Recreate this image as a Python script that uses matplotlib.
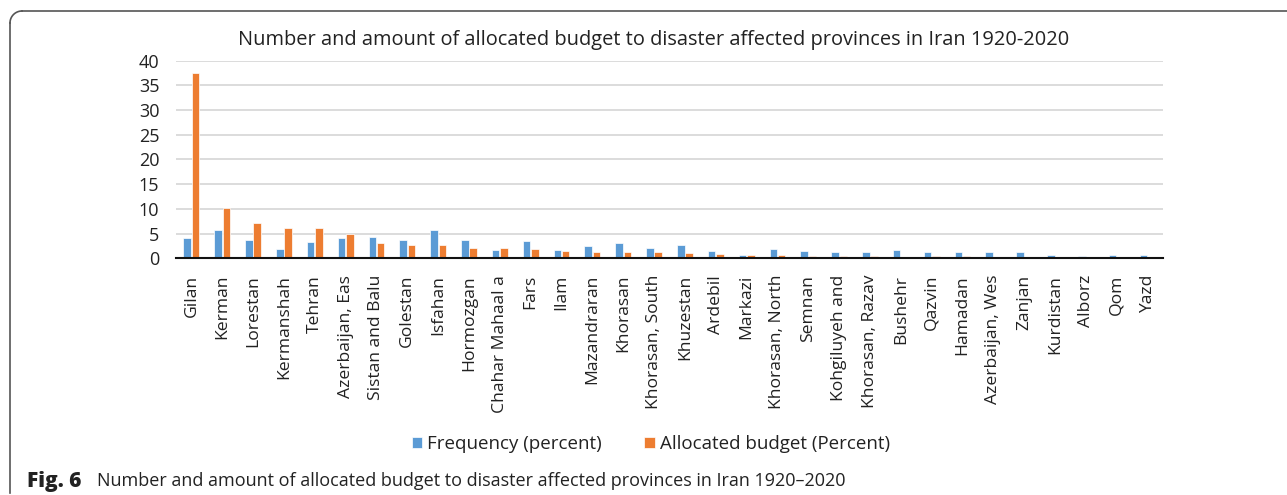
import matplotlib
matplotlib.use("Agg")
import matplotlib.pyplot as plt
import numpy as np
from matplotlib.lines import Line2D

provinces = ["Gilan", "Kerman", "Lorestan", "Kermanshah", "Tehran", "Azerbaijan, Eas",
             "Sistan and Balu", "Golestan", "Isfahan", "Hormozgan", "Chahar Mahaal a",
             "Fars", "Ilam", "Mazandraran", "Khorasan", "Khorasan, South", "Khuzestan",
             "Ardebil", "Markazi", "Khorasan, North", "Semnan", "Kohgiluyeh and",
             "Khorasan, Razav", "Bushehr", "Qazvin", "Hamadan", "Azerbaijan, Wes",
             "Zanjan", "Kurdistan", "Alborz", "Qom", "Yazd"]
frequency = [4.2, 5.8, 3.8, 1.9, 3.2, 4.2, 4.3, 3.8, 5.8, 3.8, 1.6,
             3.4, 1.7, 2.5, 3.0, 2.1, 2.7, 1.5, 0.7, 1.9, 1.5, 1.2,
             1.3, 1.7, 1.3, 1.2, 1.3, 1.3, 0.7, 0.4, 0.7, 0.7]
budget = [37.4, 10.1, 7.2, 6.2, 6.1, 4.9, 3.0, 2.6, 2.6, 2.1, 2.1,
          1.9, 1.5, 1.2, 1.2, 1.2, 1.0, 0.9, 0.6, 0.6, 0.45, 0.4,
          0.4, 0.3, 0.4, 0.4, 0.27, 0.27, 0.2, 0.13, 0.0, 0.0]
yticks = [0, 5, 10, 15, 20, 25, 30, 35, 40]
title = "Number and amount of allocated budget to disaster affected provinces in Iran 1920-2020"
series_names = ["Frequency (percent)", "Allocated budget (Percent)"]
caption_bold = "Fig. 6"
caption_text = "Number and amount of allocated budget to disaster affected provinces in Iran 1920\u20132020"

BLUE = "#5B9BD5"
ORANGE = "#ED7D31"
FONT = ["Open Sans", "DejaVu Sans"]

plt.rcParams['font.family'] = FONT

W, H = 1287, 495
fig = plt.figure(figsize=(W / 100, H / 100), dpi=100)

ax = fig.add_axes([176 / W, 1 - 258.3 / H, (1163 - 176) / W, (258.3 - 60.5) / H])
x = np.arange(len(provinces))
bw = 0.245
ax.bar(x - 0.135, frequency, width=bw, color=BLUE, edgecolor="white", linewidth=0.5,
       label=series_names[0], zorder=3)
ax.bar(x + 0.135, budget, width=bw, color=ORANGE, edgecolor="white", linewidth=0.5,
       label=series_names[1], zorder=3)
ax.set_xlim(-0.5, len(provinces) - 0.5)
ax.set_ylim(0, 40)
ax.set_yticks(yticks)
ax.set_yticklabels([str(v) for v in yticks], fontsize=13, color="#222222")
ax.set_xticks(x)
ax.set_xticklabels(provinces, rotation=90, fontsize=12.6, color="#222222", va="top")
ax.tick_params(axis="both", length=0)
ax.tick_params(axis="y", pad=12)
ax.tick_params(axis="x", pad=12)
ax.grid(axis="y", color="#D9D9D9", linewidth=1.3, zorder=0)
for s in ["top", "right", "left"]:
    ax.spines[s].set_visible(False)
ax.spines["bottom"].set_color("#111111")
ax.spines["bottom"].set_linewidth(1.5)
ax.spines["bottom"].set_zorder(4)

fig.text(654 / W, 1 - 40 / H, title, ha="center", va="center", fontsize=14.4, color="#222222")

handles, labels = ax.get_legend_handles_labels()
leg = fig.legend(handles, labels, loc="center", bbox_to_anchor=(651 / W, 1 - 444 / H),
                 ncol=2, frameon=False, fontsize=13.5, handlelength=0.55, handleheight=0.55,
                 handletextpad=0.3, columnspacing=2.25, labelcolor="#222222")

# border lines (top and left) with rounded corner
fig.add_artist(Line2D([22 / W, 1.0], [1 - 11 / H, 1 - 11 / H], transform=fig.transFigure,
                      color="#555555", linewidth=1.2))
fig.add_artist(Line2D([10 / W, 10 / W], [1 - 23 / H, 1 - 493 / H], transform=fig.transFigure,
                      color="#555555", linewidth=1.2))
t = np.linspace(np.pi / 2, np.pi, 20)
cx, cy, r = 22, 23, 12
fig.add_artist(Line2D((cx + r * np.cos(t)) / W, 1 - (cy - r * np.sin(t)) / H,
                      transform=fig.transFigure, color="#555555", linewidth=1.2))

fig.text(27 / W, 1 - 481 / H, caption_bold, fontsize=15, fontweight="heavy", va="center",
         ha="left", color="#222222")
fig.text(97 / W, 1 - 481 / H, caption_text, fontsize=13, va="center", ha="left",
         color="#222222")

fig.savefig("out.png", dpi=100)
